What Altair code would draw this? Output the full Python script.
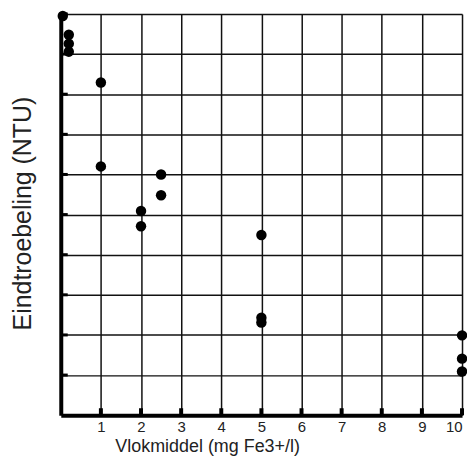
import altair as alt
import pandas as pd

# Data
vlokmiddel = [0.05, 0.2, 0.2, 0.2, 1, 1, 2, 2, 2.5, 2.5, 5, 5, 5, 10, 10, 10]
eindtroebeling = [9.95, 9.48, 9.26, 9.06, 8.29, 6.2, 5.09, 4.71, 6.0, 5.48, 4.49, 2.43, 2.31, 1.99, 1.41, 1.09]
x_ticks = [1, 2, 3, 4, 5, 6, 7, 8, 9, 10]
y_ticks = [1, 2, 3, 4, 5, 6, 7, 8, 9, 10]

W, H = 403, 403
FONT = "Liberation Sans"

pts = pd.DataFrame({"x": vlokmiddel, "y": eindtroebeling})
xt = pd.DataFrame({"x": x_ticks})
yt = pd.DataFrame({"y": y_ticks})

xscale = alt.Scale(domain=[0, 10], nice=False, zero=True)
yscale = alt.Scale(domain=[0, 10], nice=False, zero=True)

points = alt.Chart(pts).mark_point(filled=True, size=110, color="black", opacity=1).encode(
    x=alt.X("x:Q", scale=xscale,
            axis=alt.Axis(values=x_ticks, title="Vlokmiddel (mg Fe3+/l)",
                          grid=True, gridColor="#111", gridWidth=1.5, gridOpacity=1,
                          ticks=False, domainColor="black", domainWidth=4,
                          labelFont=FONT, labelFontSize=15, labelColor="#222",
                          labelPadding=4, labelFlush=5,
                          titleFont=FONT, titleFontSize=18, titleFontWeight="normal",
                          titleColor="#222", titleX=147, titleY=22,
                          titleAlign="center", titleBaseline="top")),
    y=alt.Y("y:Q", scale=yscale,
            axis=alt.Axis(values=y_ticks, title="Eindtroebeling (NTU)",
                          grid=True, gridColor="#111", gridWidth=1.5, gridOpacity=1,
                          ticks=False, labels=False, domainColor="black", domainWidth=4,
                          titleFont=FONT, titleFontSize=25, titleFontWeight="normal",
                          titleColor="#222", titleX=-38, titleY=200, titleAngle=-90,
                          titleAlign="center", titleBaseline="middle")),
)

xtick_marks = alt.Chart(xt).mark_rule(color="black", strokeWidth=4).encode(
    x=alt.X("x:Q", scale=xscale),
    y=alt.value(H),
    y2=alt.value(H - 7),
)

ytick_marks = alt.Chart(yt).mark_rule(color="black", strokeWidth=3).encode(
    y=alt.Y("y:Q", scale=yscale),
    x=alt.value(0),
    x2=alt.value(7),
)

chart = alt.layer(points, xtick_marks, ytick_marks).properties(
    width=W, height=H,
    autosize=alt.AutoSizeParams(type="none"),
    padding={"left": 53, "top": 5, "right": 5, "bottom": 40},
    background="white",
).configure_view(strokeWidth=0)

chart.save("out.html", embed_options={"renderer": "svg", "actions": False})
